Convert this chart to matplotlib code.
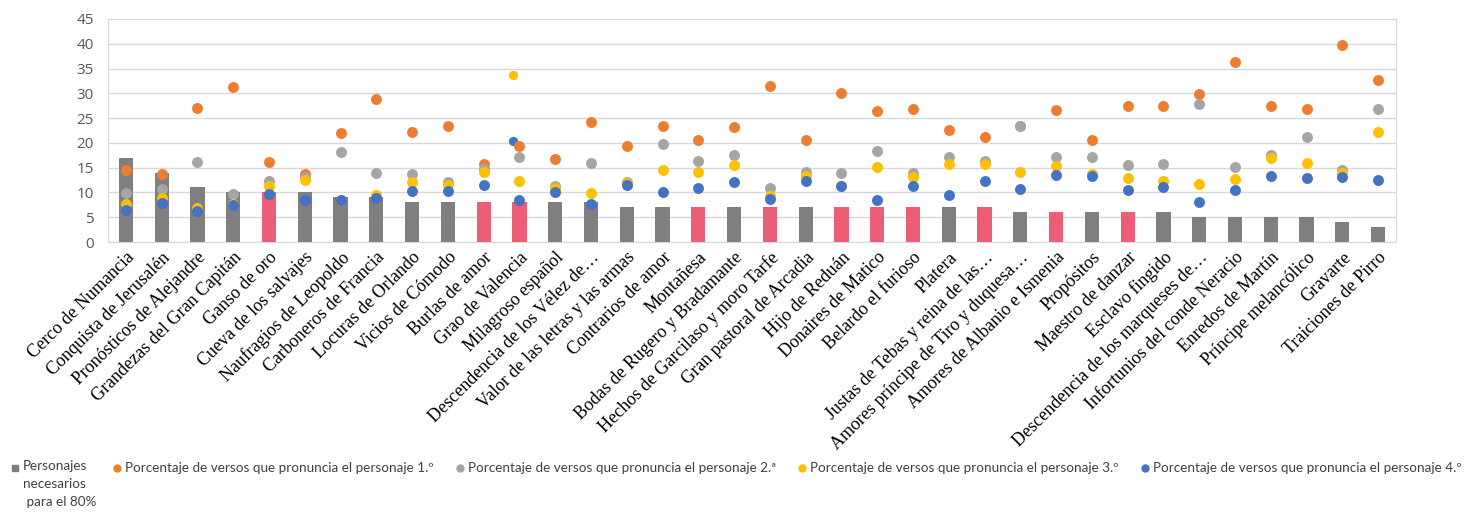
import matplotlib.pyplot as plt
from matplotlib.lines import Line2D
import numpy as np

# datos
obras = ['Cerco de Numancia', 'Conquista de Jerusalén', 'Pronósticos de Alejandre',
         'Grandezas del Gran Capitán', 'Ganso de oro', 'Cueva de los salvajes',
         'Naufragios de Leopoldo', 'Carboneros de Francia', 'Locuras de Orlando',
         'Vicios de Cómodo', 'Burlas de amor', 'Grao de Valencia', 'Milagroso español',
         'Descendencia de los Vélez de…', 'Valor de las letras y las armas',
         'Contrarios de amor', 'Montañesa', 'Bodas de Rugero y Bradamante',
         'Hechos de Garcilaso y moro Tarfe', 'Gran pastoral de Arcadia', 'Hijo de Reduán',
         'Donaires de Matico', 'Belardo el furioso', 'Platera',
         'Justas de Tebas y reina de las…', 'Amores príncipe de Tiro y duquesa…',
         'Amores de Albanio e Ismenia', 'Propósitos', 'Maestro de danzar', 'Esclavo fingido',
         'Descendencia de los marqueses de…', 'Infortunios del conde Neracio',
         'Enredos de Martín', 'Príncipe melancólico', 'Gravarte', 'Traiciones de Pirro']

personajes_80 = [17, 14, 11, 10, 10, 10, 9, 9, 8, 8, 8, 8, 8, 8, 7, 7, 7, 7, 7, 7,
                 7, 7, 7, 7, 7, 6, 6, 6, 6, 6, 5, 5, 5, 5, 4, 3]
destacadas = ['Ganso de oro', 'Burlas de amor', 'Grao de Valencia', 'Montañesa',
              'Hechos de Garcilaso y moro Tarfe', 'Hijo de Reduán', 'Donaires de Matico',
              'Belardo el furioso', 'Justas de Tebas y reina de las…',
              'Amores de Albanio e Ismenia', 'Maestro de danzar']

pers1 = [14.6, 13.8, 27.0, 31.2, 16.1, 13.8, 22.0, 28.8, 22.1, 23.4, 15.7, 19.3,
         16.7, 24.2, 19.3, 23.4, 20.5, 23.2, 31.5, 20.6, 30.1, 26.5, 26.9, 22.7,
         21.1, 23.5, 26.6, 20.5, 27.5, 27.5, 29.8, 36.3, 27.5, 26.9, 39.8, 32.6]
pers2 = [9.8, 10.7, 16.1, 9.7, 12.4, 13.2, 18.1, 14.0, 13.7, 12.1, 14.7, 17.1,
         11.4, 15.9, 12.2, 19.8, 16.4, 17.6, 10.8, 14.2, 13.9, 18.3, 13.9, 17.1,
         16.3, 23.5, 17.2, 17.1, 15.5, 15.8, 27.9, 15.2, 17.6, 21.2, 14.6, 26.8]
pers3 = [7.7, 8.8, 6.8, 7.6, 11.4, 12.6, 8.5, 9.5, 12.1, 11.5, 14.1, 12.4,
         10.9, 9.9, 12.0, 14.6, 14.1, 15.6, 9.2, 13.4, 11.4, 15.2, 13.1, 15.8,
         15.8, 14.1, 15.3, 13.8, 13.0, 12.4, 11.8, 12.8, 16.9, 15.9, 13.9, 22.2]
pers4 = [6.5, 7.9, 6.2, 7.4, 9.7, 8.5, 8.4, 8.9, 10.3, 10.3, 11.5, 8.4,
         10.1, 7.7, 11.5, 10.1, 10.9, 12.1, 8.7, 12.4, 11.2, 8.4, 11.3, 9.4,
         12.4, 10.7, 13.6, 13.4, 10.4, 11.0, 8.0, 10.4, 13.4, 13.0, 13.2, 12.6]

# puntos sueltos que aparecen junto a Grao de Valencia
extra_obra = 'Grao de Valencia'
extra_p3 = 33.8
extra_p4 = 20.3

etiquetas = ['Personajes\nnecesarios\n para el 80%',
             'Porcentaje de versos que pronuncia el personaje 1.º',
             'Porcentaje de versos que pronuncia el personaje 2.ª',
             'Porcentaje de versos que pronuncia el personaje 3.º',
             'Porcentaje de versos que pronuncia el personaje 4.º']

c_gris_barra = '#7F7F7F'
c_rosa = '#EB5E75'
c_nar = '#ED7D31'
c_gris = '#A5A5A5'
c_am = '#FFC000'
c_az = '#4472C4'

W, H = 1465, 520
fig = plt.figure(figsize=(W / 100, H / 100), dpi=100)
ax = fig.add_axes([108 / W, 1 - 242 / H, (1396 - 108) / W, (242 - 19) / H])

x = np.arange(len(obras))
colores = [c_rosa if o in destacadas else c_gris_barra for o in obras]
ax.bar(x, personajes_80, width=0.4, color=colores, zorder=2)

xe = obras.index(extra_obra) - 0.19
ax.scatter([xe], [extra_p3], s=45, color=c_am, zorder=3, linewidths=0)
ax.scatter([xe], [extra_p4], s=45, color=c_az, zorder=3, linewidths=0)

for serie, col in [(pers1, c_nar), (pers2, c_gris), (pers3, c_am), (pers4, c_az)]:
    ax.scatter(x, serie, s=62, color=col, zorder=4, linewidths=0)

ax.set_xlim(-0.5, len(obras) - 0.5)
ax.set_ylim(0, 45)
ax.set_yticks(range(0, 50, 5))
ax.yaxis.grid(True, color='#D9D9D9', lw=1, zorder=0)
ax.set_axisbelow(True)
for s in ax.spines.values():
    s.set_color('#D9D9D9')
ax.tick_params(axis='y', length=0, pad=10, labelsize=11, labelcolor='#595959')
for lab in ax.get_yticklabels():
    lab.set_family('Open Sans')
ax.set_xticks(x)
ax.set_xticklabels(obras, rotation=45, ha='right', va='top', rotation_mode='anchor',
                   family='Liberation Serif', fontsize=13)
ax.tick_params(axis='x', length=0, pad=5)

# leyenda
def fx(px):
    return px / W

def fy(py):
    return 1 - py / H

fila = 468
fig.add_artist(Line2D([fx(15)], [fy(fila)], marker='s', ms=4.5, color=c_gris_barra,
                      transform=fig.transFigure, ls=''))
fig.text(fx(23), fy(fila - 8), etiquetas[0], family='Lato', fontsize=9.7, color='#404040',
         va='top', ha='left', linespacing=1.6)
pos = [(117, c_nar), (460, c_gris), (802, c_am), (1145, c_az)]
for (px, col), et in zip(pos, etiquetas[1:]):
    fig.add_artist(Line2D([fx(px)], [fy(fila)], marker='o', ms=5, color=col,
                          transform=fig.transFigure, ls=''))
    fig.text(fx(px + 8), fy(fila), et, family='Lato', fontsize=9.7, color='#404040',
             va='center', ha='left')

fig.savefig('out.png', dpi=100)
